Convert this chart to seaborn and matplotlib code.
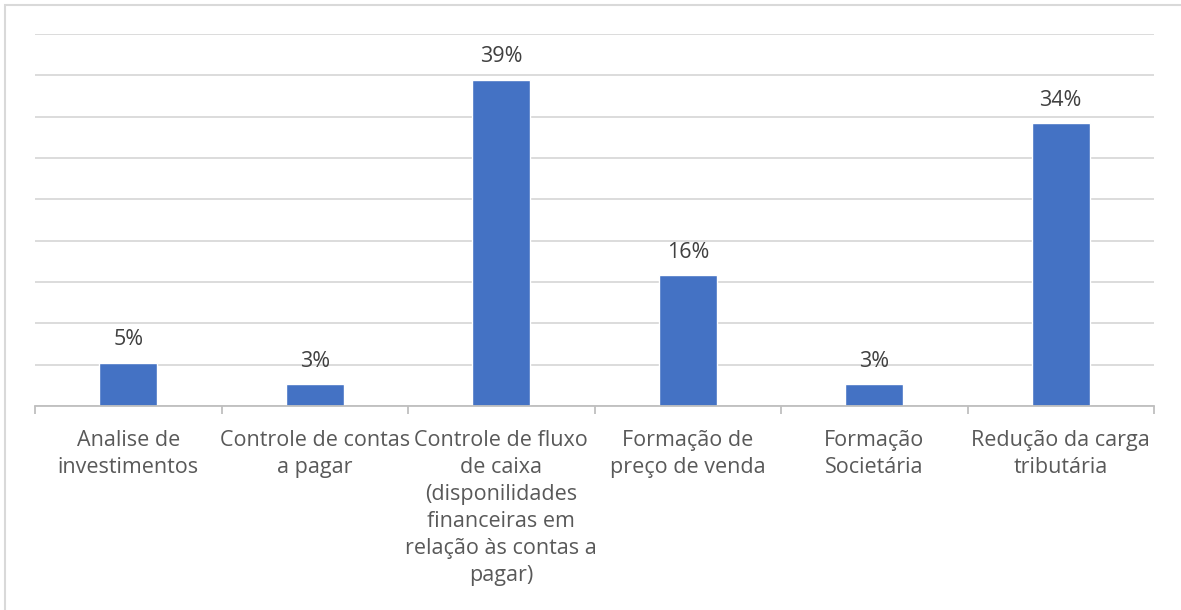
import matplotlib
matplotlib.use("Agg")
import matplotlib.pyplot as plt
import seaborn as sns
import pandas as pd
from matplotlib.patches import Rectangle

# Share of answers per management area
categories = [
    "Analise de\ninvestimentos",
    "Controle de contas\na pagar",
    "Controle de fluxo\nde caixa\n(disponilidades\nfinanceiras em\nrelação às contas a\npagar)",
    "Formação de\npreço de venda",
    "Formação\nSocietária",
    "Redução da carga\ntributária",
]
shares = [0.0526, 0.0263, 0.3947, 0.1579, 0.0263, 0.3421]

sns.set_theme(style="white")
plt.rcParams["font.family"] = ["Open Sans", "DejaVu Sans"]

df = pd.DataFrame({"categoria": categories, "percentual": shares})

W, H = 1181, 610
fig = plt.figure(figsize=(W / 100, H / 100), dpi=100)
fig.patch.set_facecolor("white")

# light frame around the chart area
fig.add_artist(Rectangle((5 / W, -0.1), 1.2, 1 - 5 / H + 0.1,
                         transform=fig.transFigure, fill=False,
                         edgecolor="#D9D9D9", linewidth=1.5))

ax = fig.add_axes([35 / W, (H - 406) / H, (1154 - 35) / W, (406 - 34) / H])
sns.barplot(data=df, x="categoria", y="percentual", color="#4472C4",
            width=0.31, saturation=1, ax=ax)

ax.set_ylim(0, 0.45)
ax.set_xlim(-0.5, len(categories) - 0.5)
ax.set_yticks([i * 0.05 for i in range(10)])
ax.yaxis.grid(True, color="#D9D9D9", linewidth=1.3)
ax.set_axisbelow(True)
ax.tick_params(axis="y", length=0, labelleft=False)

for side in ("top", "right", "left"):
    ax.spines[side].set_visible(False)
ax.spines["bottom"].set_color("#BFBFBF")
ax.spines["bottom"].set_linewidth(1.3)

ax.set_xticks(range(len(categories)))
ax.set_xticklabels(categories, fontsize=15.5, color="#595959", linespacing=1.38)
ax.tick_params(axis="x", which="major", length=0, pad=17)
ax.set_xticks([i - 0.5 for i in range(len(categories) + 1)], minor=True)
ax.tick_params(axis="x", which="minor", bottom=True, length=6, width=1.3,
               color="#BFBFBF", direction="out")

ax.set_xlabel("")
ax.set_ylabel("")

ax.bar_label(ax.containers[0], labels=[f"{v:.0%}" for v in shares],
             padding=9, fontsize=15.5, color="#404040")

fig.savefig("out.png", dpi=100, facecolor="white")
